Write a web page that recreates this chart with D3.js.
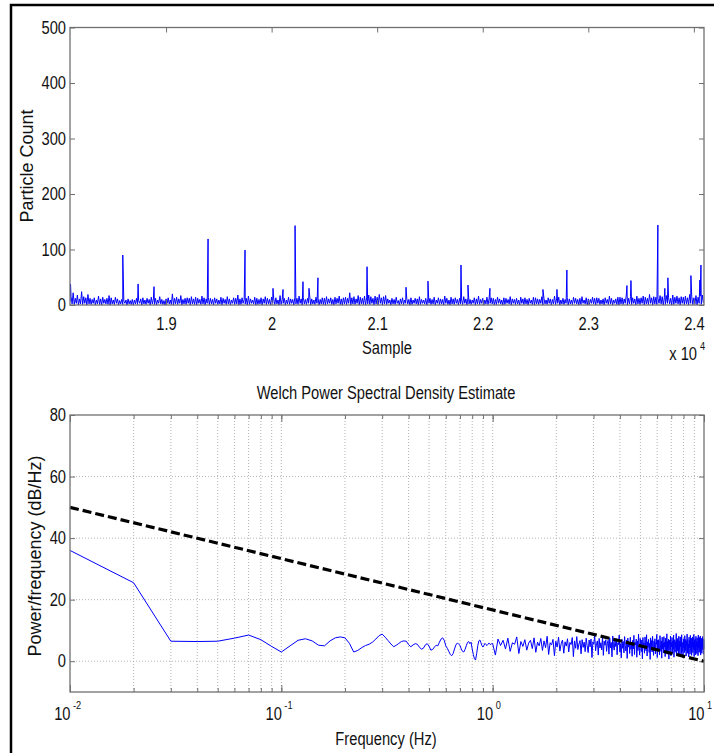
<!DOCTYPE html>
<html>
<head>
<meta charset="utf-8">
<script src="https://d3js.org/d3.v7.min.js"></script>
<style>
  body { margin: 0; background: #fff; }
  svg text { font-family: "Liberation Sans", Arial, sans-serif; font-size: 17.5px; fill: #111; }
  svg text.vlabel { font-size: 18px; }
  svg text.sup { font-size: 11px; }
</style>
</head>
<body>
<svg width="714" height="753"></svg>
<script>
// ---- top panel: particle counts per sample ----
const bandStart = 18090;   // first sample shown
const bandStep = 10;       // samples between stored readings
const bandCounts = [
  6,15,2,22,1,12,3,18,0,11,2,24,1,15,3,13,0,19,2,12,
  1,10,3,13,0,9,2,16,1,11,0,14,3,10,2,12,1,17,0,13,
  2,9,1,14,3,11,0,8,2,10,1,7,3,9,0,11,2,8,1,10,
  0,9,2,12,1,8,3,11,0,13,2,9,1,12,3,10,0,14,2,11,
  1,12,0,9,3,15,2,10,1,8,0,11,3,13,2,9,1,20,0,12,
  2,14,1,11,3,17,0,10,2,12,1,13,3,12,0,15,2,11,1,14,
  0,12,3,10,1,16,2,13,0,11,3,14,1,12,2,10,0,13,3,11,
  1,9,2,14,0,12,3,10,1,15,2,11,0,9,3,13,1,12,2,18,
  0,11,1,13,3,10,2,12,0,16,1,11,3,9,2,14,0,12,1,10,
  2,13,0,11,3,15,1,12,2,10,0,14,3,11,1,13,2,9,0,17,
  1,10,3,12,0,9,2,14,1,11,3,10,0,13,2,12,1,16,3,11,
  0,13,2,10,1,12,3,18,0,11,2,9,1,14,3,12,0,10,2,13,
  1,12,0,15,2,11,3,13,1,10,0,14,2,12,3,16,1,11,0,13,
  2,14,1,12,3,22,0,13,2,15,1,11,3,17,0,14,2,12,1,16,
  0,13,2,18,1,15,3,12,0,16,2,14,1,19,3,13,0,15,2,17,
  1,11,3,9,0,12,2,10,1,14,3,8,0,11,2,13,1,9,3,12,
  2,10,0,13,1,9,3,12,2,11,0,15,1,10,3,9,2,12,0,11,
  3,12,1,10,2,14,0,9,3,13,1,11,2,10,0,16,3,12,1,9,
  0,14,2,11,1,13,3,10,0,12,2,9,1,15,3,11,0,13,2,10,
  1,9,3,13,0,11,2,16,1,10,3,12,0,9,2,14,1,11,3,13,
  2,12,0,10,1,14,3,11,2,9,0,13,1,12,3,10,2,15,0,11,
  3,10,1,12,2,9,0,14,3,11,1,13,2,10,0,12,3,9,1,14,
  0,13,2,11,1,10,3,15,0,12,2,9,1,13,3,11,0,10,2,16,
  1,11,3,14,0,9,2,12,1,10,3,13,0,11,2,9,1,14,3,12,
  2,10,0,12,1,15,3,9,2,13,0,11,1,10,3,14,2,12,0,13,
  3,12,1,9,2,11,0,13,3,10,1,16,2,12,0,9,3,11,1,14,
  0,14,2,13,1,11,3,18,0,12,2,15,1,13,3,11,0,16,2,12,
  1,13,3,16,0,14,2,12,1,19,3,13,0,15,2,14,1,12,3,17,
  2,15,0,13,1,17,3,14,2,12,0,18,1,14,3,16,2,13,0,15,
  3,14,1,16,2,13,0,19,3,15,1,13,2,17,0,14,3,16,1,18,
  4
];
const spikeSamples = [18095, 18590, 18735, 18886, 19398, 19748, 20013, 20108, 20222, 20297,
  20354, 20439, 20904, 21273, 21481, 21794, 21860, 22068, 22570, 22703,
  22797, 23366, 23404, 23659, 23725, 23754, 23972, 24057, 24067];
const spikeCounts = [38, 90, 38, 33, 119, 99, 30, 28, 143, 42,
  30, 49, 69, 32, 43, 72, 36, 30, 28, 28,
  63, 35, 44, 144, 30, 49, 53, 45, 72];
const sampleTicks = [1.9, 2, 2.1, 2.2, 2.3, 2.4];   // x 10^4
const countTicks = [0, 100, 200, 300, 400, 500];

// ---- bottom panel: Welch PSD ----
const psdLowStep = 0.01;   // f = 0.01 ... 1.00 Hz
const psdLow = [
  36,25.5,6.5,6.4,6.5,7.5,8.5,7.0,4.8,3.0,
  5.0,6.8,7.3,6.6,5.2,5.0,6.6,7.6,7.9,7.6,
  5.8,3.0,3.5,4.4,5.1,5.5,6.2,7.2,8.3,8.8,
  7.8,6.7,5.6,4.7,5.2,5.8,6.4,6.6,6.5,5.4,
  4.7,5.3,5.7,5.5,4.6,3.9,4.2,5.3,5.7,4.9,
  3.6,3.8,4.6,5.2,5.0,6.2,7.2,7.6,6.8,5.0,
  4.2,3.2,2.2,1.8,2.5,4.0,5.3,5.9,5.6,5.2,
  4.0,3.2,3.0,3.8,5.0,6.1,6.4,5.7,6.2,4.0,
  2.2,0.8,0.4,2.5,5.0,6.6,6.9,6.0,5.1,4.6,
  5.2,5.8,5.4,5.1,5.5,5.9,5.6,5.4,5.8,5.7
];
const psdHighStart = 1.0;
const psdHighStep = 0.03;  // f = 1.03 ... 10.00 Hz
const psdHigh = [
  2.0,7.2,5.1,6.8,4.0,7.5,3.2,6.0,5.5,7.9,2.5,6.4,4.8,7.0,3.6,5.9,6.8,4.1,7.6,2.9,
  6.2,5.0,7.4,3.5,6.6,4.4,8.1,2.2,6.0,5.3,7.1,1.8,6.5,4.6,7.8,3.3,5.7,6.9,2.6,6.3,
  4.9,7.3,3.0,6.1,5.4,7.7,1.5,6.6,4.2,8.0,3.8,5.6,6.7,2.4,7.0,4.5,6.2,3.1,7.5,5.0,
  2.8,6.9,4.7,7.2,1.2,6.3,5.5,8.3,3.4,5.8,6.6,2.0,7.4,4.3,6.0,3.7,7.9,1.9,6.5,5.2,
  7.0,3.2,5.9,6.8,2.3,7.6,4.4,6.1,1.4,8.2,5.0,3.6,6.7,4.8,7.3,2.1,6.0,5.4,8.5,3.0,
  5.7,1.1,7.1,4.2,6.4,2.7,8.0,5.1,3.3,6.9,0.9,7.5,4.6,6.2,2.5,7.8,3.9,5.5,1.6,6.8,
  4.0,8.4,2.2,6.1,5.3,7.2,1.3,6.6,3.5,8.8,4.7,2.0,7.4,5.6,3.1,6.9,0.8,7.7,4.3,6.0,
  2.6,7.9,5.0,3.4,8.6,1.7,6.3,4.5,7.1,2.9,5.8,0.6,7.6,4.1,6.7,3.0,8.1,5.2,1.9,6.5,
  4.4,7.3,2.4,6.0,5.5,8.7,1.2,6.8,3.7,7.0,4.9,2.1,8.3,5.4,3.2,6.6,1.0,7.8,4.0,5.9,
  2.7,8.0,4.6,6.2,1.5,7.5,5.1,3.3,8.9,2.3,6.4,4.2,7.2,0.7,6.9,5.3,3.6,8.2,1.8,6.1,
  4.8,7.7,2.5,6.5,3.9,8.5,1.3,5.7,7.0,2.9,6.3,4.5,9.0,1.9,6.8,3.4,7.4,5.0,2.2,8.1,
  3.8,6.6,1.6,7.9,4.7,5.9,2.4,8.6,3.1,6.1,5.4,1.1,7.3,4.3,6.9,2.8,8.3,4.9,3.5,7.1,
  1.7,6.4,5.2,8.8,2.6,7.0,3.9,5.6,1.4,7.8,4.4,6.7,2.3,8.4,5.1,3.2,7.5,1.9,6.2,4.6,
  7.9,2.8,6.0,4.1,8.7,1.5,6.8,3.6,7.3,5.3,2.1,8.1,4.8,6.5,2.5,7.6,3.7,5.8,1.8,8.5,
  4.2,6.9,2.9,7.7,5.0,3.3,8.2,2.0,6.3,4.7,7.4,2.6,6.6,3.8,8.0,4.5,5.7,2.3,7.1,4.0
];
const trendFreq = [0.01, 10];
const trendDb = [50, 0];
const freqExp = [-2, -1, 0, 1];
const dbTicks = [0, 20, 40, 60, 80];

const axisGray = "#707070";
const svg = d3.select("svg");

// outer frame (left and top edges only)
svg.append("path").attr("d", "M11,753V5H714").attr("fill", "none")
  .attr("stroke", "#000").attr("stroke-width", 2.5);

// ================= top panel =================
const x1 = d3.scaleLinear().domain([18090, 24096]).range([70, 704]);
const y1 = d3.scaleLinear().domain([0, 500]).range([305, 27.5]);

let countData = bandCounts.map((c, i) => ({ s: bandStart + i * bandStep, c: c }));
spikeSamples.forEach((s, i) => countData.push({ s: s, c: spikeCounts[i] }));
countData.sort((a, b) => a.s - b.s);

svg.append("clipPath").attr("id", "clip1").append("rect")
  .attr("x", 70).attr("y", 27.5).attr("width", 634).attr("height", 277.5);

svg.append("path")
  .datum(countData)
  .attr("clip-path", "url(#clip1)")
  .attr("fill", "none")
  .attr("stroke", "#0000ff")
  .attr("stroke-width", 1)
  .attr("d", d3.line().x(d => x1(d.s)).y(d => y1(d.c)));

function styleAxis(g) {
  g.select(".domain").remove();
  g.selectAll(".tick line").attr("stroke", axisGray);
}

const sampleVals = sampleTicks.map(t => Math.round(t * 1e4));
svg.append("g").attr("transform", "translate(0,305)")
  .call(d3.axisBottom(x1).tickValues(sampleVals).tickSize(-5).tickPadding(12.6)
    .tickFormat(d => d3.format("~g")(d / 1e4)))
  .call(styleAxis);
svg.append("g").attr("transform", "translate(0,27.5)")
  .call(d3.axisTop(x1).tickValues(sampleVals).tickSize(-5).tickFormat(""))
  .call(styleAxis);
svg.append("g").attr("transform", "translate(70,0)")
  .call(d3.axisLeft(y1).tickValues(countTicks).tickSize(-5).tickPadding(4))
  .call(styleAxis);
svg.append("g").attr("transform", "translate(704,0)")
  .call(d3.axisRight(y1).tickValues(countTicks).tickSize(-5).tickFormat(""))
  .call(styleAxis);

svg.append("rect").attr("x", 70).attr("y", 27.5).attr("width", 634).attr("height", 277.5)
  .attr("fill", "none").attr("stroke", axisGray).attr("stroke-width", 1.3);

svg.append("text").attr("x", 387).attr("y", 354).attr("text-anchor", "middle").text("Sample");
svg.append("text").attr("x", 697).attr("y", 360).attr("text-anchor", "end").text("x 10");
svg.append("text").attr("class", "sup").attr("x", 700).attr("y", 350).text("4");
svg.append("text").attr("class", "vlabel").attr("transform", "translate(33,166) rotate(-90)")
  .attr("text-anchor", "middle").text("Particle Count");

// ================= bottom panel =================
const x2 = d3.scaleLog().domain([0.01, 10]).range([70, 704]);
const y2 = d3.scaleLinear().domain([-10, 80]).range([692, 415]);

let freqMinor = [];
[0.01, 0.1, 1].forEach(dec => {
  for (let k = 1; k <= 9; k++) freqMinor.push(+(k * dec).toPrecision(3));
});
freqMinor.push(10);
const freqMajor = freqExp.map(e => Math.pow(10, e));

// grid
const grid = svg.append("g").attr("stroke", "#b4b4b4").attr("stroke-dasharray", "1,2");
grid.selectAll("line.v").data(freqMinor.filter(f => f > 0.01 && f < 10)).join("line")
  .attr("x1", d => x2(d)).attr("x2", d => x2(d)).attr("y1", 415).attr("y2", 692);
grid.selectAll("line.h").data(dbTicks.filter(v => v > -10 && v < 80)).join("line")
  .attr("y1", d => y2(d)).attr("y2", d => y2(d)).attr("x1", 70).attr("x2", 704);

// ticks
svg.append("g").attr("transform", "translate(0,692)")
  .call(d3.axisBottom(x2).tickValues(freqMinor).tickSize(-4).tickFormat(""))
  .call(styleAxis);
svg.append("g").attr("transform", "translate(0,692)")
  .call(d3.axisBottom(x2).tickValues(freqMajor).tickSize(-7).tickFormat(""))
  .call(styleAxis);
svg.append("g").attr("transform", "translate(0,415)")
  .call(d3.axisTop(x2).tickValues(freqMinor).tickSize(-4).tickFormat(""))
  .call(styleAxis);
svg.append("g").attr("transform", "translate(0,415)")
  .call(d3.axisTop(x2).tickValues(freqMajor).tickSize(-7).tickFormat(""))
  .call(styleAxis);
svg.append("g").attr("transform", "translate(70,0)")
  .call(d3.axisLeft(y2).tickValues(dbTicks).tickSize(-5).tickPadding(4))
  .call(styleAxis);
svg.append("g").attr("transform", "translate(704,0)")
  .call(d3.axisRight(y2).tickValues(dbTicks).tickSize(-5).tickFormat(""))
  .call(styleAxis);

// x tick labels 10^e: base ends just right of the tick, exponent follows
freqExp.forEach(e => {
  const xt = x2(Math.pow(10, e));
  svg.append("text").attr("x", xt + 0.5).attr("y", 720).attr("text-anchor", "end").text("10");
  svg.append("text").attr("class", "sup").attr("x", xt + 3).attr("y", 709).text(e);
});

// PSD line
let psdData = psdLow.map((v, i) => ({ f: +((i + 1) * psdLowStep).toFixed(2), v: v }));
psdHigh.forEach((v, i) => psdData.push({ f: +(psdHighStart + (i + 1) * psdHighStep).toFixed(2), v: v }));

svg.append("path")
  .datum(psdData)
  .attr("fill", "none")
  .attr("stroke", "#0000ff")
  .attr("stroke-width", 1)
  .attr("d", d3.line().x(d => x2(d.f)).y(d => y2(d.v)));

// dashed reference slope
svg.append("path")
  .datum(trendFreq.map((f, i) => ({ f: f, v: trendDb[i] })))
  .attr("fill", "none")
  .attr("stroke", "#000")
  .attr("stroke-width", 3.2)
  .attr("stroke-dasharray", "9,4")
  .attr("d", d3.line().x(d => x2(d.f)).y(d => y2(d.v)));

svg.append("rect").attr("x", 70).attr("y", 415).attr("width", 634).attr("height", 277)
  .attr("fill", "none").attr("stroke", axisGray).attr("stroke-width", 1.3);

svg.append("text").attr("x", 386).attr("y", 399).attr("text-anchor", "middle")
  .text("Welch Power Spectral Density Estimate");
svg.append("text").attr("x", 386).attr("y", 745).attr("text-anchor", "middle")
  .text("Frequency (Hz)");
svg.append("text").attr("class", "vlabel").attr("transform", "translate(41,556) rotate(-90)")
  .attr("text-anchor", "middle").text("Power/frequency (dB/Hz)");

// the source figure's horizontal text is narrow: squeeze it sideways
svg.selectAll("text:not(.vlabel)").each(function() {
  const len = this.getComputedTextLength();
  if (len > 0) d3.select(this).attr("textLength", len * 0.84).attr("lengthAdjust", "spacingAndGlyphs");
});
</script>
</body>
</html>
